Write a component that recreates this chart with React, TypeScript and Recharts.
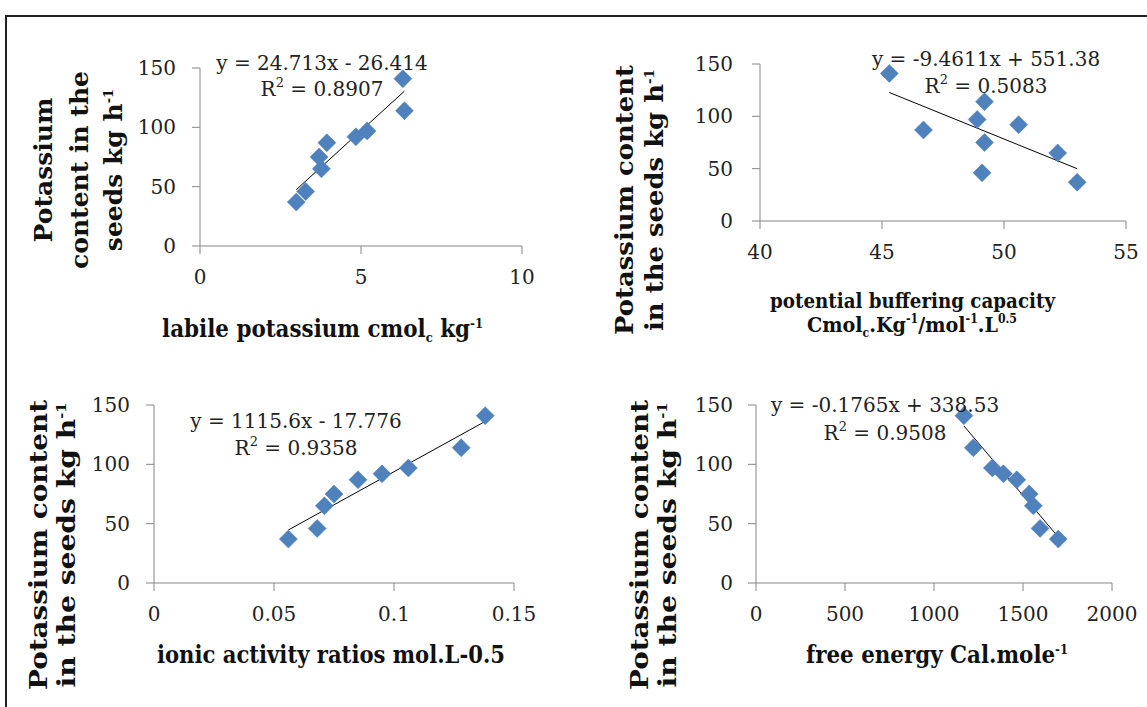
import React from "react";
import { ScatterChart, Scatter, XAxis, YAxis, ReferenceLine } from "recharts";

// potassium content in the seeds (kg h-1), same nine samples in every panel
const potassiumContent = [37, 46, 65, 75, 87, 92, 97, 114, 141];
const labilePotassium = [2.99, 3.28, 3.77, 3.7, 3.94, 4.84, 5.19, 6.35, 6.3];
const bufferingCapacity = [53.0, 49.1, 52.2, 49.2, 46.7, 50.6, 48.9, 49.2, 45.3];
const activityRatio = [0.056, 0.068, 0.071, 0.075, 0.085, 0.095, 0.106, 0.128, 0.138];
const freeEnergy = [1698, 1596, 1558, 1535, 1465, 1390, 1328, 1221, 1168];

const yTicks = [0, 50, 100, 150];
const labileTicks = [0, 5, 10];
const bufferTicks = [40, 45, 50, 55];
const ratioTicks = [0, 0.05, 0.1, 0.15];
const energyTicks = [0, 500, 1000, 1500, 2000];

// linear trend lines as printed on the chart: [slope, intercept]
const labileFit = [24.713, -26.414];
const bufferFit = [-9.4611, 551.38];
const ratioFit = [1115.6, -17.776];
const energyFit = [-0.1765, 338.53];

const equations = [
  { eq: "y = 24.713x - 26.414", r2: "0.8907", cx: 322, y1: 70, y2: 96 },
  { eq: "y = -9.4611x + 551.38", r2: "0.5083", cx: 986, y1: 66, y2: 93 },
  { eq: "y = 1115.6x - 17.776", r2: "0.9358", cx: 296, y1: 428, y2: 455 },
  { eq: "y = -0.1765x + 338.53", r2: "0.9508", cx: 885, y1: 412, y2: 440 },
];

const SERIF = "'DejaVu Serif', serif";
const AXIS = "#868686";
const MARKER = "#4f81bd";

function Diamond(props: any) {
  const { cx, cy } = props;
  if (cx == null || cy == null) return null;
  const r = 9;
  return (
    <polygon
      points={`${cx},${cy - r} ${cx + r},${cy} ${cx},${cy + r} ${cx - r},${cy}`}
      fill={MARKER}
      stroke="#4a7ebb"
      strokeWidth={0.5}
    />
  );
}

type PanelProps = {
  left: number;
  top: number;
  width: number;
  height: number;
  xValues: number[];
  xTicks: number[];
  fit: number[];
  marginTop: number;
  marginRight: number;
  yAxisWidth: number;
  xAxisHeight: number;
  yGap: number;
};

function Panel(p: PanelProps) {
  const data = potassiumContent.map((y, i) => ({ x: p.xValues[i], y }));
  const lo = Math.min(...p.xValues);
  const hi = Math.max(...p.xValues);
  const seg = [
    { x: lo, y: p.fit[0] * lo + p.fit[1] },
    { x: hi, y: p.fit[0] * hi + p.fit[1] },
  ];
  const tickStyle = { fill: "#222", fontSize: 20, fontFamily: SERIF };
  return (
    <div style={{ position: "absolute", left: p.left, top: p.top }}>
      <ScatterChart
        width={p.width}
        height={p.height}
        margin={{ top: p.marginTop, right: p.marginRight, bottom: 0, left: 0 }}
        style={{ overflow: "visible" }}
      >
        <XAxis
          type="number"
          dataKey="x"
          domain={[p.xTicks[0], p.xTicks[p.xTicks.length - 1]]}
          ticks={p.xTicks}
          height={p.xAxisHeight}
          tickSize={8}
          tickMargin={16}
          axisLine={{ stroke: AXIS }}
          tickLine={{ stroke: AXIS }}
          tick={tickStyle}
          interval={0}
        />
        <YAxis
          type="number"
          dataKey="y"
          domain={[0, 150]}
          ticks={yTicks}
          width={p.yAxisWidth}
          tickSize={8}
          tickMargin={p.yGap - 8}
          axisLine={{ stroke: AXIS }}
          tickLine={{ stroke: AXIS }}
          tick={tickStyle}
          interval={0}
        />
        <Scatter data={data} shape={Diamond} isAnimationActive={false} />
        <ReferenceLine segment={seg} stroke="#000" strokeWidth={1} />
      </ScatterChart>
    </div>
  );
}

function YTitle({ lines, xs, cy, size, lengths }: { lines: React.ReactNode[]; xs: number[]; cy: number; size: number; lengths?: number[] }) {
  return (
    <>
      {lines.map((l, i) => (
        <text
          key={i}
          transform={`translate(${xs[i]},${cy}) rotate(-90)`}
          textAnchor="middle"
          fontFamily={SERIF}
          fontWeight="bold"
          fontSize={size}
          fill="#111"
          textLength={lengths ? lengths[i] : undefined}
          lengthAdjust="spacingAndGlyphs"
        >
          {l}
        </text>
      ))}
    </>
  );
}

const sup = (s: string, size = 13) => (
  <tspan fontSize={size} dy={-9}>
    {s}
  </tspan>
);
const sub = (s: string, size = 13) => (
  <tspan fontSize={size} dy={5}>
    {s}
  </tspan>
);

export default function App() {
  return (
    <div style={{ position: "absolute", left: 0, top: 0, width: 1147, height: 707, overflow: "hidden", background: "#fff" }}>
      <div style={{ position: "absolute", left: 5, top: 15, width: 1200, height: 800, border: "2px solid #222" }} />

      <Panel left={120} top={40} width={432} height={266} xValues={labilePotassium} xTicks={labileTicks} fit={labileFit}
        marginTop={28} marginRight={30} yAxisWidth={80} xAxisHeight={60} yGap={24} />
      <Panel left={680} top={40} width={466} height={231} xValues={bufferingCapacity} xTicks={bufferTicks} fit={bufferFit}
        marginTop={24} marginRight={20} yAxisWidth={80} xAxisHeight={50} yGap={27} />
      <Panel left={74} top={380} width={470} height={248} xValues={activityRatio} xTicks={ratioTicks} fit={ratioFit}
        marginTop={25} marginRight={30} yAxisWidth={80} xAxisHeight={45} yGap={24} />
      <Panel left={676} top={380} width={466} height={248} xValues={freeEnergy} xTicks={energyTicks} fit={energyFit}
        marginTop={25} marginRight={30} yAxisWidth={80} xAxisHeight={45} yGap={23} />

      <svg width={1147} height={707} style={{ position: "absolute", left: 0, top: 0, pointerEvents: "none" }}>
        {equations.map((e, i) => (
          <g key={i} fontFamily={SERIF} fontSize={20} fill="#222" textAnchor="middle">
            <text x={e.cx} y={e.y1}>{e.eq}</text>
            <text x={e.cx} y={e.y2}>
              R<tspan fontSize={13} dy={-9}>2</tspan>
              <tspan dy={9}> = {e.r2}</tspan>
            </text>
          </g>
        ))}

        <YTitle
          lines={["Potassium", "content in the", <>seeds kg h{sup("-1")}</>]}
          xs={[52, 88, 122]}
          cy={170}
          size={25}
        />
        <YTitle
          lines={["Potassium content", <>in the seeds kg h{sup("-1")}</>]}
          xs={[633, 663]}
          cy={200}
          size={25}
          lengths={[270, 262]}
        />
        <YTitle
          lines={["Potassium content", <>in the seeds kg h{sup("-1")}</>]}
          xs={[47, 75]}
          cy={545}
          size={25}
          lengths={[290, 285]}
        />
        <YTitle
          lines={["Potassium content", <>in the seeds kg h{sup("-1")}</>]}
          xs={[648, 676]}
          cy={545}
          size={25}
          lengths={[290, 285]}
        />

        <g fontFamily={SERIF} fontWeight="bold" fill="#111">
          <text x={162} y={337} fontSize={24} textLength={321} lengthAdjust="spacingAndGlyphs">
            labile potassium  cmol{sub("c")}<tspan dy={-5}> kg</tspan>{sup("-1")}
          </text>
          <text x={770} y={308} fontSize={21} textLength={285} lengthAdjust="spacingAndGlyphs">
            potential buffering capacity
          </text>
          <text x={807} y={332} fontSize={21} textLength={210} lengthAdjust="spacingAndGlyphs">
            Cmol{sub("c", 12)}<tspan dy={-5}>.Kg</tspan>{sup("-1", 12)}<tspan dy={9}>/mol</tspan>
            {sup("-1", 12)}<tspan dy={9}>.L</tspan>{sup("0.5", 12)}
          </text>
          <text x={157} y={663} fontSize={24} textLength={348} lengthAdjust="spacingAndGlyphs">
            ionic activity ratios mol.L-0.5
          </text>
          <text x={806} y={663} fontSize={24} textLength={262} lengthAdjust="spacingAndGlyphs">
            free energy  Cal.mole{sup("-1")}
          </text>
        </g>
      </svg>
    </div>
  );
}
